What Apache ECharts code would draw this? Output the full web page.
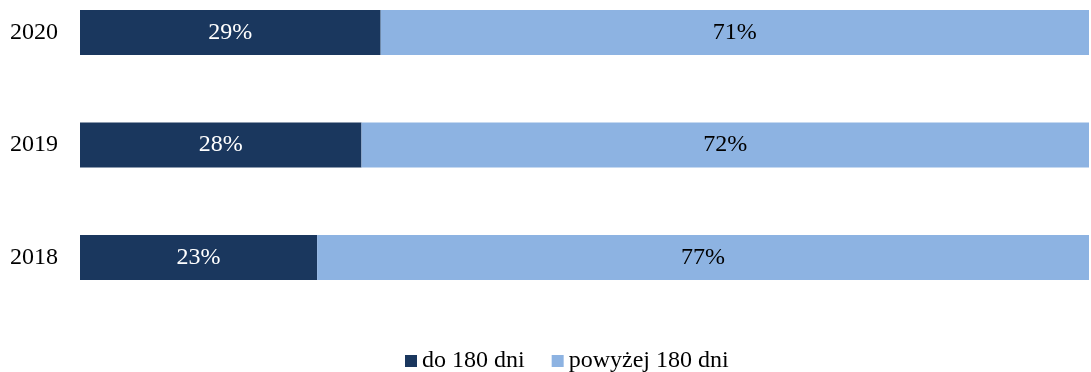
<!DOCTYPE html>
<html><head><meta charset="utf-8">
<script src="https://cdn.jsdelivr.net/npm/echarts@6/dist/echarts.min.js"></script>
<style>html,body{margin:0;padding:0;background:#fff}#c{width:1091px;height:372px}</style>
</head><body><div id="c"></div>
<script>
const categories = ['2018', '2019', '2020'];
const seriesNames = ['do 180 dni', 'powyżej 180 dni'];
const shortValues = [23.5, 27.9, 29.8];
const longValues = [76.5, 72.1, 70.2];
const shortLabels = ['23%', '28%', '29%'];
const longLabels = ['77%', '72%', '71%'];

const font = '"Liberation Serif", serif';
const chart = echarts.init(document.getElementById('c'));
chart.setOption({
  animation: false,
  grid: { left: 80, right: 2, top: 32.5, bottom: 114.5, containLabel: false },
  xAxis: { type: 'value', min: 0, max: 100, show: false },
  yAxis: {
    type: 'category', data: categories, boundaryGap: false,
    axisLine: { show: false }, axisTick: { show: false }, splitLine: { show: false },
    axisLabel: { color: '#000', fontFamily: font, fontSize: 24, margin: 22 }
  },
  legend: {
    top: 344, left: 400, itemWidth: 12, itemHeight: 12, itemGap: 27,
    icon: 'rect',
    textStyle: { fontFamily: font, fontSize: 24, color: '#000' },
    data: seriesNames
  },
  series: [
    {
      name: seriesNames[0], type: 'bar', stack: 'a', barWidth: 45,
      data: shortValues,
      itemStyle: { color: '#1A375E' },
      label: { show: true, position: 'inside', color: '#fff', fontFamily: font, fontSize: 24,
        formatter: p => shortLabels[p.dataIndex] }
    },
    {
      name: seriesNames[1], type: 'bar', stack: 'a', barWidth: 45,
      data: longValues,
      itemStyle: { color: '#8DB3E2' },
      label: { show: true, position: 'inside', color: '#000', fontFamily: font, fontSize: 24,
        formatter: p => longLabels[p.dataIndex] }
    }
  ]
});
</script></body></html>
